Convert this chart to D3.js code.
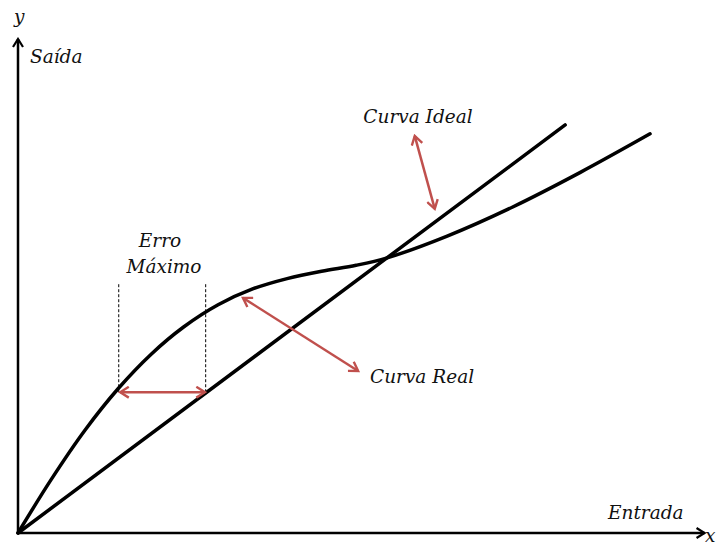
<!DOCTYPE html>
<html><head><meta charset="utf-8">
<script src="https://cdn.jsdelivr.net/npm/d3@7/dist/d3.min.js"></script>
<style>
html,body{margin:0;padding:0;background:#fff;}
text{font-family:"DejaVu Serif","Liberation Serif",serif;font-style:italic;fill:#111;}
</style></head>
<body><svg id="c" width="719" height="545"></svg>
<script>
// Real (measured) transfer curve
const realX = [0, 0.48, 0.97, 1.45, 1.93, 2.40, 2.90, 3.40, 3.90, 4.40, 4.90, 5.35, 6.22, 7.17, 8.15, 9.16];
const realY = [0, 1.08, 2.08, 2.92, 3.62, 4.17, 4.62, 4.94, 5.15, 5.30, 5.42, 5.57, 6.01, 6.60, 7.30, 8.08];
// Ideal straight line
const idealX = [0, 7.93];
const idealY = [0, 8.26];
// Maximum error marker
const errX = [1.48, 2.71];
const errY = [2.85, 2.85];
const dashX = [1.46, 2.72];
const dashY = [2.85, 5.06];
// annotation arrows
const idealArrowX = [5.75, 6.04];
const idealArrowY = [8.04, 6.56];
const realArrowX = [3.26, 4.93];
const realArrowY = [4.76, 3.28];
const labels = ["y", "Saída", "Entrada", "x", "Curva Ideal", "Erro", "Máximo", "Curva Real"];

const svg = d3.select("#c");
const x = d3.scaleLinear().domain([0, 10]).range([18, 708]);
const y = d3.scaleLinear().domain([0, 10]).range([533, 39]);
const red = "#c0504d";

const defs = svg.append("defs");
function chevron(id, color, w) {
  defs.append("marker").attr("id", id).attr("viewBox", "-10 -6 12 12")
    .attr("refX", 0).attr("refY", 0).attr("markerWidth", w).attr("markerHeight", w)
    .attr("markerUnits", "userSpaceOnUse").attr("orient", "auto-start-reverse")
    .append("path").attr("d", "M-8,-5 L0,0 L-8,5").attr("fill", "none")
    .attr("stroke", color).attr("stroke-width", 2.2).attr("stroke-linejoin", "miter");
}
chevron("ar", red, 13);
chevron("ak", "#000", 12);

const line = d3.line().x(d => x(d[0])).y(d => y(d[1]));
const smooth = d3.line().x(d => x(d[0])).y(d => y(d[1])).curve(d3.curveCatmullRom.alpha(0.5));

// axes
svg.append("path").attr("d", line([[0, 0], [0, 10]])).attr("stroke", "#000")
  .attr("stroke-width", 2.5).attr("fill", "none").attr("marker-end", "url(#ak)");
svg.append("path").attr("d", line([[0, 0], [9.95, 0]])).attr("stroke", "#000")
  .attr("stroke-width", 2.5).attr("fill", "none").attr("marker-end", "url(#ak)");

// dashed guides
dashX.forEach(dx => {
  svg.append("path").attr("d", line([[dx, dashY[0]], [dx, dashY[1]]]))
    .attr("stroke", "#000").attr("stroke-width", 1).attr("stroke-dasharray", "3,2").attr("fill", "none");
});

// ideal line
svg.append("path").attr("d", line(idealX.map((v, i) => [v, idealY[i]])))
  .attr("stroke", "#000").attr("stroke-width", 3.5).attr("fill", "none").attr("stroke-linecap", "round");
// real curve
svg.append("path").attr("d", smooth(realX.map((v, i) => [v, realY[i]])))
  .attr("stroke", "#000").attr("stroke-width", 3.5).attr("fill", "none").attr("stroke-linecap", "round");

// red arrows
function redArrow(xs, ys) {
  svg.append("path").attr("d", line(xs.map((v, i) => [v, ys[i]])))
    .attr("stroke", red).attr("stroke-width", 2.5).attr("fill", "none")
    .attr("marker-start", "url(#ar)").attr("marker-end", "url(#ar)");
}
redArrow(errX, errY);
redArrow(idealArrowX, idealArrowY);
redArrow(realArrowX, realArrowY);

// texts
const fs = 18.5;
function label(t, px, py, anchor) {
  svg.append("text").attr("x", px).attr("y", py).attr("text-anchor", anchor || "start")
    .attr("font-size", fs).text(t);
}
label(labels[0], 14, 23);
label(labels[1], 30, 63);
label(labels[2], 608, 519);
label(labels[3], 705, 542);
label(labels[4], 418, 123, "middle");
label(labels[5], 160, 247, "middle");
label(labels[6], 164, 273, "middle");
label(labels[7], 370, 383);
</script></body></html>
